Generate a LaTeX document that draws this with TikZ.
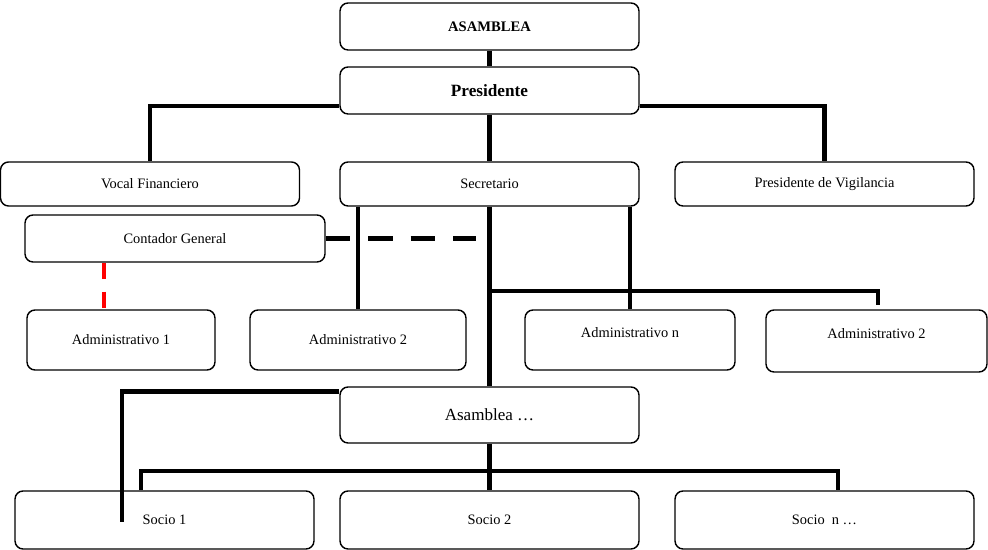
\documentclass[tikz,border=0pt]{standalone}
\usepackage{fontspec}
\setmainfont{Liberation Serif}

\begin{document}
\begin{tikzpicture}[x=0.02cm, y=-0.02cm,
        org box/.style={draw, rounded corners=0.16cm, line width=0.8pt, inner sep=0pt,
            minimum width=5.98cm, minimum height=0.88cm, font=\fontsize{8.2}{10}\selectfont},
        staff box/.style={org box, minimum height=1.2cm},
        high text/.style={text depth=0.31cm},
        link/.style={line width=2.8pt},
        dash link/.style={link, dash pattern=on 0.49cm off 0.36cm},
        red link/.style={line width=2.2pt, red, dash pattern=on 0.32cm off 0.26cm}]
    \useasboundingbox (0,0) rectangle (988,550);

    \node[org box, minimum height=0.94cm, font=\bfseries\fontsize{8.3}{10}\selectfont] (asam) at (489.5,26.5) {ASAMBLEA};
    \node[org box, minimum height=0.94cm, font=\bfseries\fontsize{9.8}{12}\selectfont] (pres) at (489.5,90.5) {Presidente};
    \node[org box] (vocal) at (150,184) {Vocal Financiero};
    \node[org box] (secr) at (489.5,184) {Secretario};
    \node[org box] (vigil) at (824.5,184) {Presidente de Vigilancia};
    \node[org box, minimum width=6cm, minimum height=0.94cm] (conta) at (175,238.5) {Contador General};
    \node[staff box, minimum width=3.76cm] (adm1) at (121,340) {Administrativo 1};
    \node[staff box, minimum width=4.32cm] (adm2) at (358,340) {Administrativo 2};
    \node[staff box, minimum width=4.2cm, high text] (admn) at (630,340) {Administrativo n};
    \node[staff box, minimum width=4.42cm, minimum height=1.24cm, high text] (admr) at (876.5,341) {Administrativo 2};
    \node[org box, minimum height=1.12cm, font=\fontsize{9.7}{12}\selectfont] (asam2) at (489.5,415) {Asamblea …};
    \node[staff box, minimum height=1.16cm] (soc1) at (164.5,520) {Socio 1};
    \node[staff box, minimum height=1.16cm] (soc2) at (489.5,520) {Socio 2};
    \node[staff box, minimum height=1.16cm] (socn) at (824.5,520) {Socio\ \ n …};

    \coordinate (branch) at (489.5,291);
    \coordinate (stub) at (878,305);
    \coordinate (dash end) at (476,238.5);
    \coordinate (red x) at (104,0);
    \coordinate (tail) at (122,522);
    \coordinate (bus left) at (141,471);
    \coordinate (bus right) at (838,471);

    \draw[link] (asam) -- (pres);
    \draw[link] ([yshift=-0.31cm]pres.west) -| (vocal);
    \draw[link] ([yshift=-0.31cm]pres.east) -| (vigil);
    \draw[link] (pres) -- (secr);
    \draw[link] (secr.south -| adm2) -- (adm2);
    \draw[link] (secr) -- (asam2);
    \draw[link] (secr.south -| admn) -- (admn);
    \draw[link] (branch) -| (stub);
    \draw[dash link] (conta) -- (dash end);
    \draw[red link] (conta.south -| red x) -- (adm1.north -| red x);
    \draw[link] ([yshift=-0.1cm]asam2.north west) -| (tail);
    \draw[link] (asam2) -- (soc2);
    \draw[link] (bus left |- soc1.north) -- (bus left) -- (bus right) -- (bus right |- socn.north);
\end{tikzpicture}
\end{document}
